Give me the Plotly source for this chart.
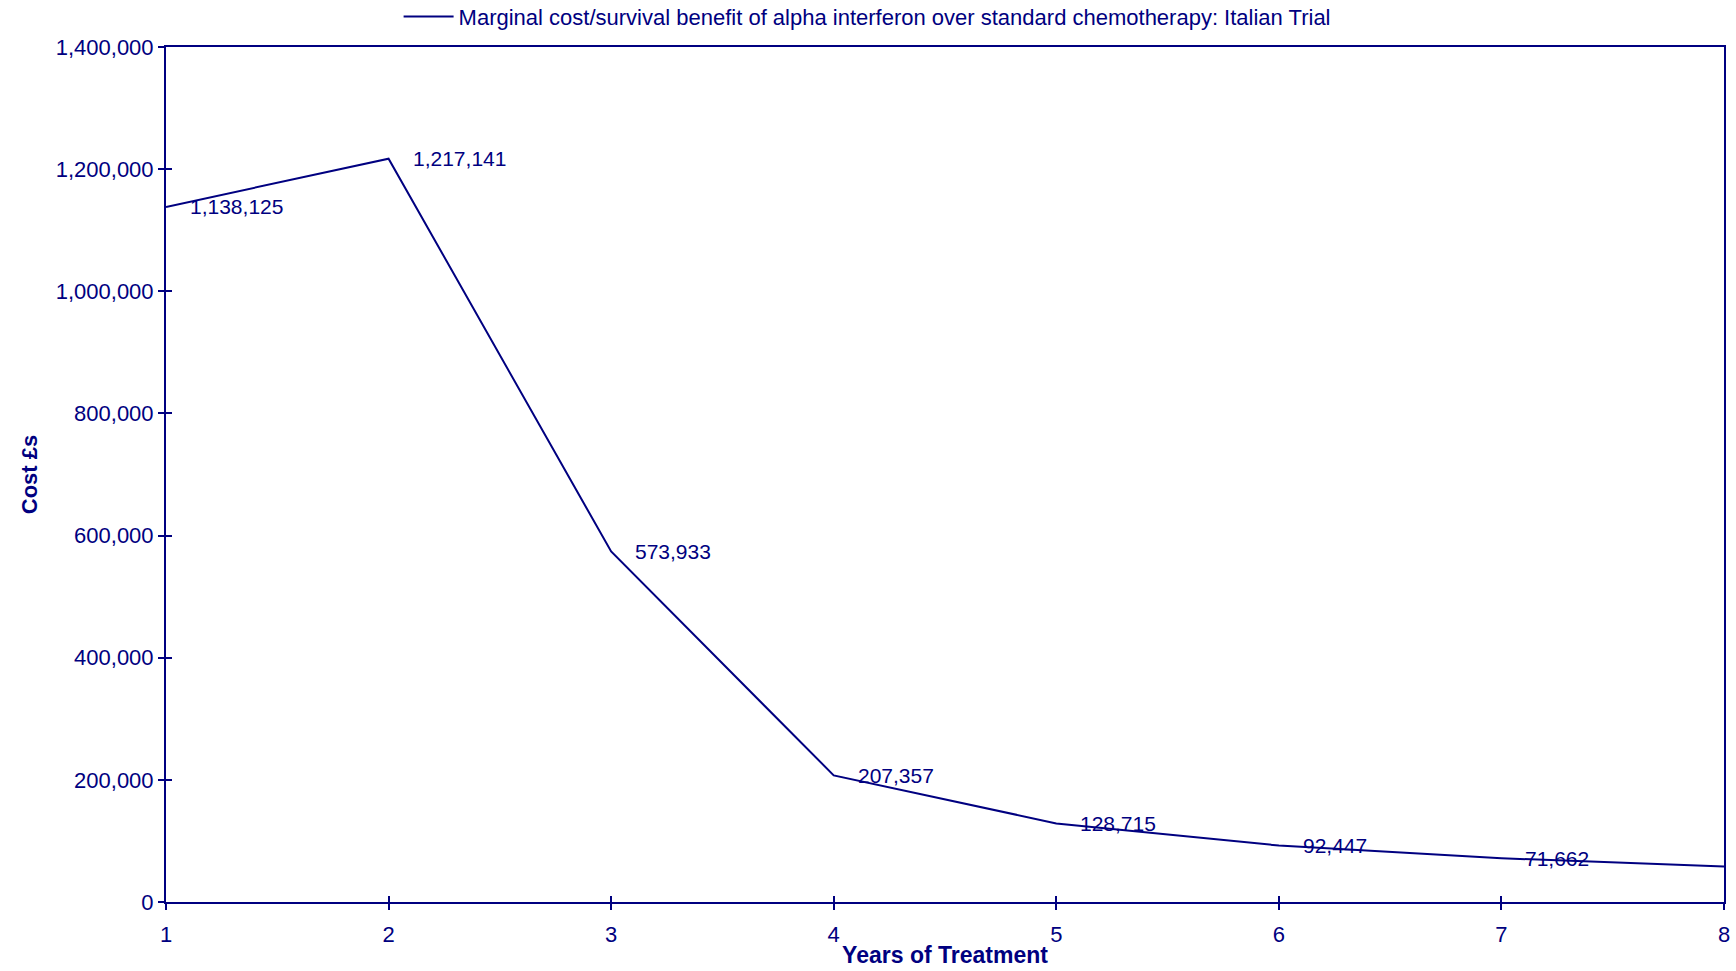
import plotly.graph_objects as go

NAVY = "#000080"

years = [1, 2, 3, 4, 5, 6, 7, 8]
marginal_cost = [1138125, 1217141, 573933, 207357, 128715, 92447, 71662, 58000]
labelled_years = [1, 2, 3, 4, 5, 6, 7]
label_text = ["1,138,125", "1,217,141", "573,933", "207,357", "128,715", "92,447", "71,662"]
y_ticks = [0, 200000, 400000, 600000, 800000, 1000000, 1200000, 1400000]
series_name = "Marginal cost/survival benefit of alpha interferon over standard chemotherapy: Italian Trial"

FONT = "Liberation Sans, Arial, sans-serif"

fig = go.Figure()
fig.add_trace(go.Scatter(
    x=years, y=marginal_cost, mode="lines", name=series_name,
    line=dict(color=NAVY, width=2), showlegend=True,
))
# empty trace hosting the overlay axes that draw the inner half of each tick
fig.add_trace(go.Scatter(x=[], y=[], xaxis="x2", yaxis="y2", showlegend=False,
                         hoverinfo="skip"))

# value labels to the right of each point
for xv, lbl in zip(labelled_years, label_text):
    yv = marginal_cost[years.index(xv)]
    fig.add_annotation(
        x=xv, y=yv, text=lbl, showarrow=False, xanchor="left", yanchor="middle",
        xshift=22, font=dict(family=FONT, size=21, color=NAVY),
    )

fig.update_layout(
    width=1736, height=971,
    margin=dict(l=166, r=12, t=47, b=69, autoexpand=False),
    paper_bgcolor="white", plot_bgcolor="white",
    font=dict(family=FONT, color=NAVY, size=22),
    legend=dict(
        orientation="h", x=0.45, xanchor="center", y=1.0355, yanchor="middle",
        yref="paper", font=dict(family=FONT, size=22, color=NAVY),
        bgcolor="rgba(0,0,0,0)", itemwidth=50, tracegroupgap=0,
    ),
    showlegend=True,
)

fig.update_layout(
    xaxis=dict(
        range=[1, 8], tickmode="array", tickvals=years, ticktext=[str(v) for v in years],
        showgrid=False, zeroline=False, showline=True, linecolor=NAVY, linewidth=2,
        mirror=True, ticks="outside", ticklen=6, tickwidth=2, tickcolor=NAVY,
        ticklabelstandoff=6, tickfont=dict(size=22, color=NAVY),
        title=dict(text="<b>Years of Treatment</b>", font=dict(size=23, color=NAVY), standoff=0),
    ),
    yaxis=dict(
        range=[0, 1400000], tickmode="array", tickvals=y_ticks,
        ticktext=[f"{v:,}" for v in y_ticks],
        showgrid=False, zeroline=False, showline=True, linecolor=NAVY, linewidth=2,
        mirror=True, ticks="outside", ticklen=6, tickwidth=2, tickcolor=NAVY,
        ticklabelstandoff=0, tickfont=dict(size=22, color=NAVY),
        title=dict(text="<b>Cost £s</b>", font=dict(size=22, color=NAVY), standoff=12),
    ),
    xaxis2=dict(
        overlaying="x", matches="x", anchor="y2", side="bottom",
        tickmode="array", tickvals=years, ticks="inside", ticklen=6, tickwidth=2,
        tickcolor=NAVY, showticklabels=False, showgrid=False, zeroline=False,
        showline=False,
    ),
    yaxis2=dict(
        overlaying="y", matches="y", anchor="x2", side="left",
        tickmode="array", tickvals=y_ticks, ticks="inside", ticklen=6, tickwidth=2,
        tickcolor=NAVY, showticklabels=False, showgrid=False, zeroline=False,
        showline=False,
    ),
)

fig.write_html("out.html")
